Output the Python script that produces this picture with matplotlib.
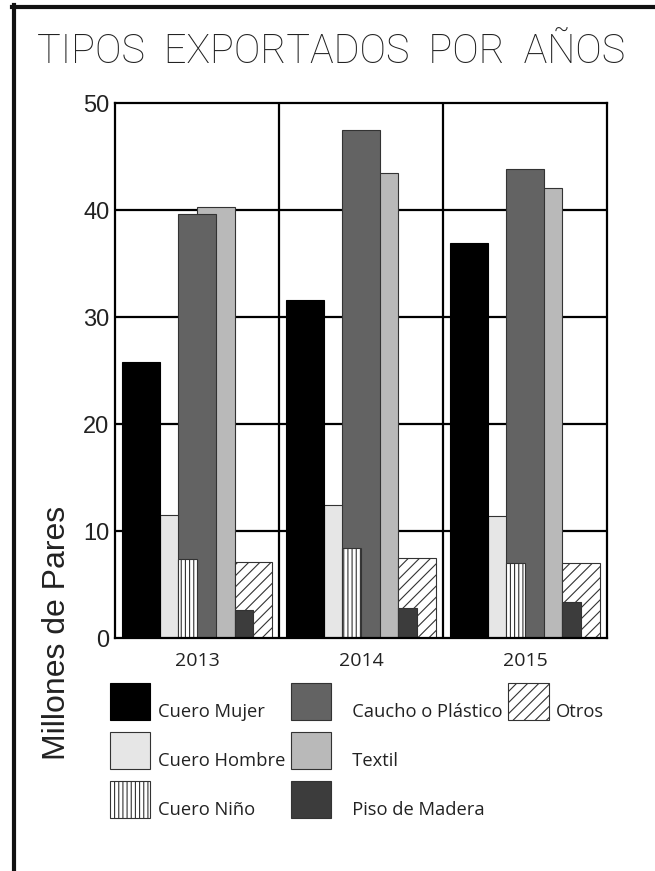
import matplotlib
matplotlib.use("Agg")
import matplotlib.pyplot as plt
from matplotlib.lines import Line2D
from matplotlib.patches import Patch, Rectangle
from matplotlib.legend_handler import HandlerPatch
import numpy as np

# datos (millones de pares)
years = ['2013', '2014', '2015']
cuero_mujer = [25.8, 31.6, 36.9]
cuero_hombre = [11.5, 12.4, 11.4]
cuero_nino = [7.4, 8.4, 7.0]
caucho = [39.6, 47.5, 43.8]
textil = [40.3, 43.5, 42.1]
otros = [7.1, 7.5, 7.0]
piso = [2.6, 2.8, 3.4]

plt.rcParams['hatch.color'] = '#333333'
plt.rcParams['hatch.linewidth'] = 0.8

fig = plt.figure(figsize=(6.55, 8.71), dpi=100)
ax = fig.add_axes([0.1756, 0.2675, 0.7511, 0.6142])

x = np.arange(len(years))
u = 0.1143  # media anchura de barra
ec = '#333333'

# barras solapadas, el orden de dibujo manda (zorder)
b_hombre = ax.bar(x - 1 * u, cuero_hombre, 2 * u, color='#e6e6e6', edgecolor=ec, lw=0.8, zorder=2)
b_textil = ax.bar(x + 1 * u, textil, 2 * u, color='#b9b9b9', edgecolor=ec, lw=0.8, zorder=2)
b_caucho = ax.bar(x, caucho, 2 * u, color='#636363', edgecolor=ec, lw=0.8, zorder=3)
b_nino = ax.bar(x - 0.5 * u, cuero_nino, u, color='white', edgecolor=ec, lw=0.8, hatch='||||', zorder=4)
b_otros = ax.bar(x + 3 * u, otros, 2 * u, color='white', edgecolor=ec, lw=0.8, hatch='///', zorder=3)
b_piso = ax.bar(x + 2.5 * u, piso, u, color='#3c3c3c', edgecolor=ec, lw=0.8, zorder=4)
b_mujer = ax.bar(x - 3 * u, cuero_mujer, 2 * u, color='black', edgecolor='black', lw=0.8, zorder=3)

ax.set_xlim(-0.5, len(years) - 0.5)
ax.set_ylim(0, 50)
ax.set_yticks([0, 10, 20, 30, 40, 50])
ax.set_xticks(x)
ax.set_xticklabels(years)

# rejilla: horizontales en cada 10, verticales entre años
for yv in [10, 20, 30, 40]:
    ax.axhline(yv, color='black', lw=1.6, zorder=1)
for xv in [0.5, 1.5]:
    ax.axvline(xv, color='black', lw=1.6, zorder=1)
for s in ax.spines.values():
    s.set_linewidth(1.6)
    s.set_color('black')
    s.set_zorder(5)

ax.tick_params(axis='y', length=0, pad=4, labelsize=17, labelcolor='#222222')
ax.tick_params(axis='x', length=0, pad=10, labelsize=14, labelcolor='#222222')
for lab in ax.get_yticklabels():
    lab.set_fontfamily('Liberation Sans')
for lab in ax.get_xticklabels():
    lab.set_fontfamily('Open Sans')

fig.text(57 / 655, 1 - 633 / 871, 'Millones de Pares', rotation=90, ha='center', va='center',
         fontsize=23, family='Liberation Sans', color='#222222')

fig.text(331 / 655, 1 - 52 / 871, 'TIPOS  EXPORTADOS  POR  AÑOS', ha='center', va='center',
         fontsize=28.5, family=['Roboto', 'DejaVu Sans'], weight='light', color='#222222')


# cuadros de leyenda grandes (41x37 px)
def big_box(legend, orig_handle, xdescent, ydescent, width, height, fontsize):
    return Rectangle((-xdescent, -2.0), width, 26.6)


# leyenda 3x3 (columna a columna)
blank = Patch(visible=False)
bars = [b_mujer, b_hombre, b_nino, b_caucho, b_textil, b_piso, b_otros]
handles = [b[0] for b in bars] + [blank, blank]
labels = ['Cuero Mujer', 'Cuero Hombre', 'Cuero Niño', '   Caucho o Plástico', '   Textil',
          '   Piso de Madera', 'Otros', '', '']
hmap = {h: HandlerPatch(patch_func=big_box) for h in handles[:7]}
leg = fig.legend(handles, labels, ncol=3, loc='upper left', bbox_to_anchor=(110 / 655, 1 - 697 / 871),
                 frameon=False, borderpad=0, borderaxespad=0, handlelength=2.2, handleheight=1.97,
                 handletextpad=0.4, columnspacing=0.3, labelspacing=1.16, handler_map=hmap,
                 prop={'family': 'Open Sans', 'size': 13.2})
for t in leg.get_texts():
    t.set_color('#222222')

# marco exterior (arriba e izquierda)
fig.add_artist(Line2D([12 / 655, 1], [1 - 7 / 871, 1 - 7 / 871], color='#111111', lw=3, transform=fig.transFigure))
fig.add_artist(Line2D([13.5 / 655, 13.5 / 655], [0, 1 - 5 / 871], color='#111111', lw=3, transform=fig.transFigure))

fig.savefig('out.png', dpi=100)
plt.close(fig)
